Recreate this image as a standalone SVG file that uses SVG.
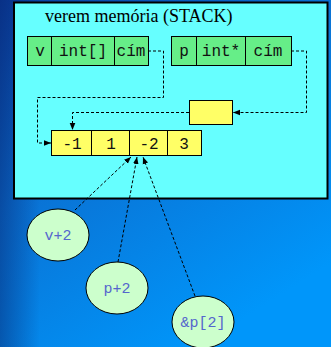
<svg xmlns="http://www.w3.org/2000/svg" width="331" height="347" viewBox="0 0 331 347">
  <defs>
    <linearGradient id="bg" x1="0" y1="0" x2="0.6" y2="1">
      <stop offset="0" stop-color="#0b3f9e"/>
      <stop offset="0.45" stop-color="#0a72d4"/>
      <stop offset="1" stop-color="#0096fa"/>
    </linearGradient>
    <linearGradient id="edge" x1="0" y1="0" x2="1" y2="0">
      <stop offset="0" stop-color="#06206a" stop-opacity="0.45"/>
      <stop offset="0.12" stop-color="#06206a" stop-opacity="0"/>
    </linearGradient>
    <marker id="arr" viewBox="0 0 10 10" refX="10" refY="5" markerWidth="7" markerHeight="7" orient="auto" markerUnits="userSpaceOnUse">
      <path d="M0,1 L10,5 L0,9 Z" fill="#000"/>
    </marker>
    <style>
      .cell-g { fill: #66ee88; stroke: #000; stroke-width: 1; }
      .cell-y { fill: #ffff66; stroke: #000; stroke-width: 1; }
      .mono { font-family: "Liberation Mono", "Courier New", monospace; font-size: 16px; fill: #111; text-anchor: middle; }
      .link { fill: none; stroke: #000; stroke-width: 1; stroke-dasharray: 3 2; }
      .bubble { fill: #ccffcc; stroke: #000; stroke-width: 1; }
      .blabel { font-family: "Liberation Mono", "Courier New", monospace; font-size: 15px; fill: #5566cc; text-anchor: middle; }
    </style>
  </defs>

  <!-- background -->
  <rect x="0" y="0" width="331" height="347" fill="url(#bg)"/>
  <rect x="0" y="0" width="331" height="347" fill="url(#edge)"/>

  <!-- stack frame -->
  <g id="stack">
    <rect x="14" y="2.5" width="313.5" height="196" fill="#66ffff" stroke="#000" stroke-width="2"/>
    <text x="45" y="22" font-family="Liberation Serif, 'Times New Roman', serif" font-size="18" fill="#000">verem memória (STACK)</text>
  </g>

  <!-- variable v -->
  <g id="var-v">
    <rect class="cell-g" x="27.5" y="36.5" width="24" height="29"/>
    <rect class="cell-g" x="51.5" y="36.5" width="63" height="29"/>
    <rect class="cell-g" x="114.5" y="36.5" width="34" height="29"/>
    <text class="mono" x="40" y="56">v</text>
    <text class="mono" x="83" y="56">int[]</text>
    <text class="mono" x="131" y="56">cím</text>
  </g>

  <!-- variable p -->
  <g id="var-p">
    <rect class="cell-g" x="171.5" y="36.5" width="25" height="29"/>
    <rect class="cell-g" x="196.5" y="36.5" width="49" height="29"/>
    <rect class="cell-g" x="245.5" y="36.5" width="46" height="29"/>
    <text class="mono" x="184" y="56">p</text>
    <text class="mono" x="221" y="56">int*</text>
    <text class="mono" x="268" y="56">cím</text>
  </g>

  <!-- pointer cell -->
  <g id="ptr-cell">
    <rect class="cell-y" x="189.5" y="100.5" width="43" height="24"/>
  </g>

  <!-- array -->
  <g id="array">
    <rect class="cell-y" x="51.5" y="130.5" width="40" height="25"/>
    <rect class="cell-y" x="91.5" y="130.5" width="38" height="25"/>
    <rect class="cell-y" x="129.5" y="130.5" width="38" height="25"/>
    <rect class="cell-y" x="167.5" y="130.5" width="34" height="25"/>
    <text class="mono" x="72" y="149">-1</text>
    <text class="mono" x="111" y="149">1</text>
    <text class="mono" x="149" y="149">-2</text>
    <text class="mono" x="184" y="149">3</text>
  </g>

  <!-- expressions -->
  <g id="expr-v2">
    <ellipse class="bubble" cx="58" cy="235" rx="31" ry="26"/>
    <text class="blabel" x="58" y="240">v+2</text>
  </g>
  <g id="expr-p2">
    <ellipse class="bubble" cx="117" cy="288" rx="31" ry="26"/>
    <text class="blabel" x="117" y="293">p+2</text>
  </g>
  <g id="expr-ap2">
    <ellipse class="bubble" cx="203" cy="322" rx="31" ry="26"/>
    <text class="blabel" x="203" y="327">&amp;p[2]</text>
  </g>

  <!-- connectors -->
  <g id="connectors">
    <polyline class="link" points="148,51 163.5,51 163.5,97.5 37.5,97.5 37.5,143 51,143" marker-end="url(#arr)"/>
    <polyline class="link" points="291,51 306.5,51 306.5,112.5 233,112.5" marker-end="url(#arr)"/>
    <polyline class="link" points="189,112.5 72.5,112.5 72.5,130" marker-end="url(#arr)"/>
    <line class="link" x1="75" y1="210" x2="131" y2="157" marker-end="url(#arr)"/>
    <line class="link" x1="118" y1="262" x2="137" y2="157" marker-end="url(#arr)"/>
    <line class="link" x1="195" y1="296" x2="143" y2="157" marker-end="url(#arr)"/>
  </g>
</svg>
